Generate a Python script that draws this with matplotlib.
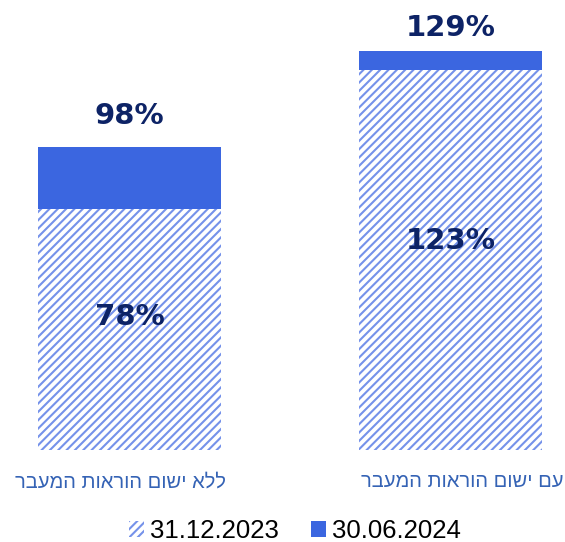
import matplotlib
matplotlib.use("Agg")
import matplotlib.pyplot as plt
from matplotlib.patches import Patch

# data
categories = ["ללא ישום הוראות המעבר", "עם ישום הוראות המעבר"]
series_names = ["31.12.2023", "30.06.2024"]
vals_2023 = [78, 123]
vals_2024 = [98, 129]

NAVY = "#0d2366"
BLUE = "#3b66e0"
HATCH_C = "#7592ea"
LABEL_C = "#3563b5"

plt.rcParams["hatch.linewidth"] = 1.5
plt.rcParams["font.family"] = ["Liberation Sans", "DejaVu Sans"]

fig = plt.figure(figsize=(5.65, 5.42), dpi=100)
ax = fig.add_axes([38 / 565, 92 / 542, 504 / 565, 432.6 / 542])
x = list(range(len(categories)))
w = 0.57

# solid (newer) bar behind, hatched (older) bar on top
ax.bar(x, vals_2024, width=w, color=BLUE, linewidth=0, zorder=2)
ax.bar(x, vals_2023, width=w, facecolor="white", edgecolor=HATCH_C,
       hatch="////", linewidth=0, zorder=3)

top_off = [31, 23]  # px above bar top
lab_dx = [-9, 12]   # px shift of category labels
for i in x:
    ax.annotate(f"{vals_2024[i]}%", (i, vals_2024[i]), xytext=(0, top_off[i] * 0.72),
                textcoords="offset points", ha="center", va="center",
                fontsize=21, fontweight="bold", color=NAVY, family="DejaVu Sans")
    ax.text(i, vals_2023[i] * 0.55, f"{vals_2023[i]}%", ha="center", va="center",
            fontsize=21, fontweight="bold", color=NAVY, family="DejaVu Sans", zorder=4)
    ax.annotate(categories[i][::-1], (i, 0), xytext=(lab_dx[i] * 0.72, -16),
                textcoords="offset points", ha="center", va="top",
                fontsize=14.5, color=LABEL_C)

ax.set_xlim(-w / 2, 1 + w / 2)
ax.set_ylim(0, 140)
ax.set_xticks([])
ax.set_yticks([])
for s in ax.spines.values():
    s.set_visible(False)

handles = [Patch(facecolor="white", edgecolor=HATCH_C, hatch="////", linewidth=0),
           Patch(facecolor=BLUE, linewidth=0)]
fig.legend(handles, series_names, loc="lower center", bbox_to_anchor=(0.522, -0.045),
           ncol=2, frameon=False, fontsize=18.5, handlelength=0.58, handleheight=0.58,
           handletextpad=0.25, columnspacing=1.25)

fig.savefig("out.png", dpi=100)
